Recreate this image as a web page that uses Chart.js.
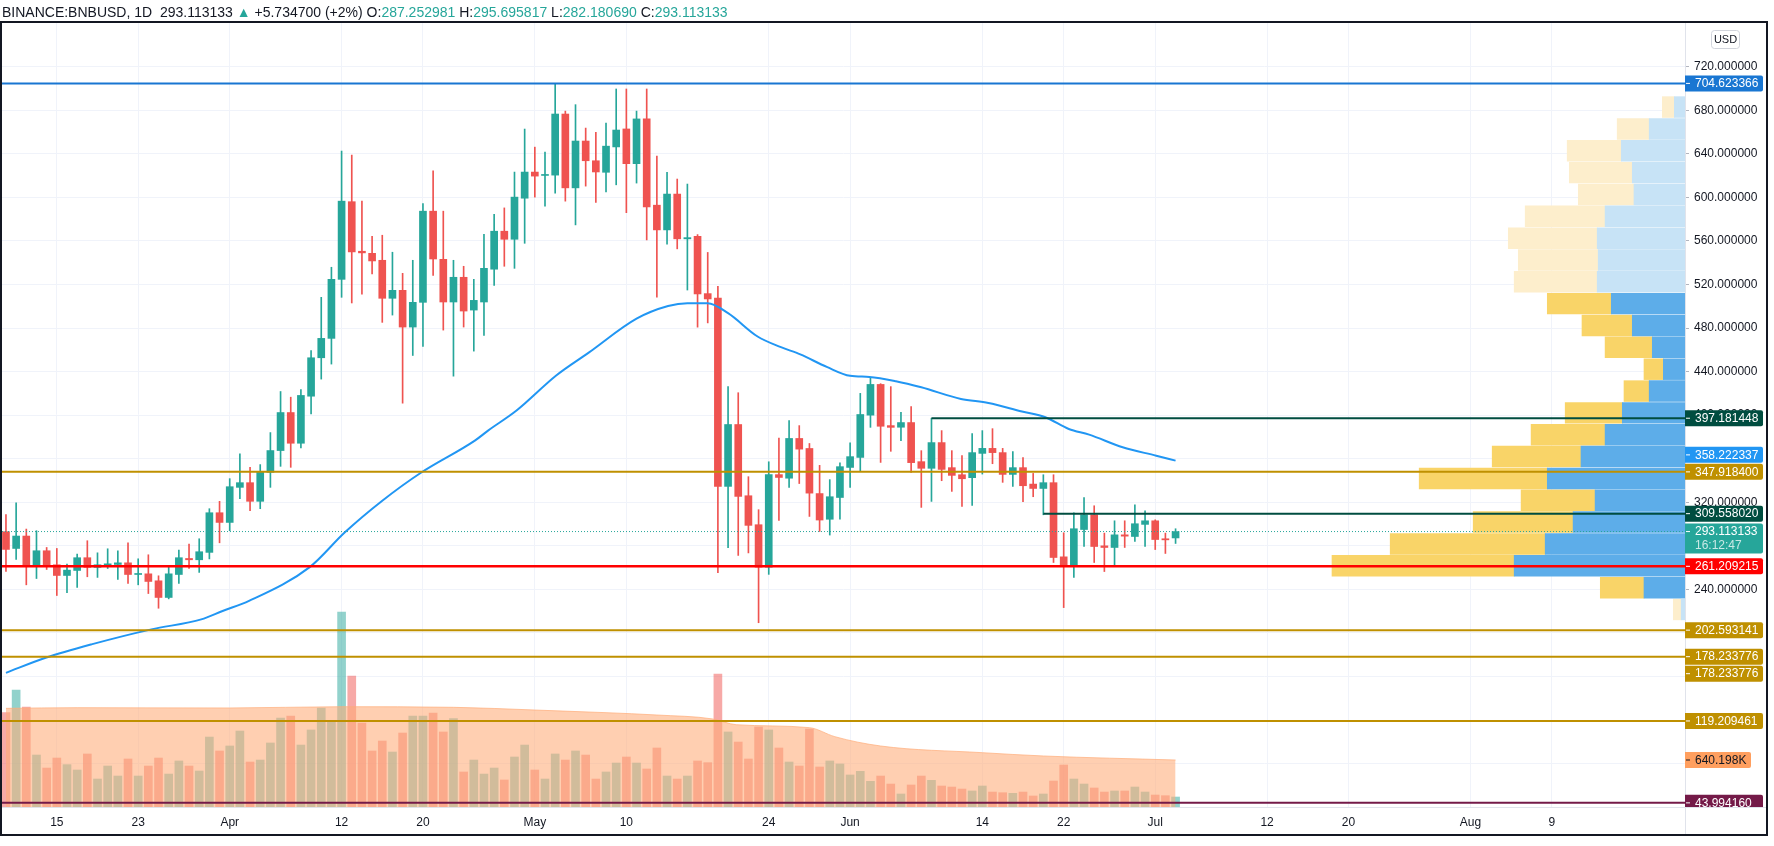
<!DOCTYPE html>
<html>
<head>
<meta charset="utf-8">
<script src="https://cdn.jsdelivr.net/npm/chart.js@4.4.1/dist/chart.umd.min.js"></script>
<style>
  html, body { margin: 0; padding: 0; background: #fff; }
  canvas { position: absolute; left: 0; top: 0; }
  #hdr { position: absolute; left: 2px; top: 4px; font: 14px "Liberation Sans", Arial, sans-serif; color: #131722; white-space: nowrap; }
  #hdr .g { color: #26a69a; }
</style>
</head>
<body>
<canvas id="c" width="1774" height="846"></canvas>
<div id="hdr">BINANCE:BNBUSD, 1D&nbsp; 293.113133 <span class="g">&#9650;</span> +5.734700 (+2%) O:<span class="g">287.252981</span> H:<span class="g">295.695817</span> L:<span class="g">282.180690</span> C:<span class="g">293.113133</span></div>
<script>
// daily candles from 2021-03-10 (index 0) to 2021-07-03 (index 115)
const opens = [
  293.0, 277.6, 289.0, 261.7, 275.5, 262.6, 252.8, 257.4, 269.1, 260.2, 261.7, 262.9, 264.4, 253.7, 254.3, 247.9, 232.6, 253.7, 268.4, 267.2, 274.0, 310.4,
  301.5, 333.7, 338.0, 320.9, 347.5, 367.5, 402.4, 374.2, 417.4, 452.7, 470.5, 524.7, 596.0, 550.5, 548.6, 542.2, 507.3, 514.6, 480.9, 503.6, 587.3, 543.1, 503.9, 526.6, 496.5, 503.9, 534.0, 568.9, 561.5, 599.2,
  623.2, 620.1, 620.4, 676.5, 608.7, 651.7, 633.6, 623.0, 646.3, 662.8, 630.9, 672.0, 592.8, 570.1, 603.0, 561.9, 564.2, 511.6, 507.4, 334.6, 391.4, 326.0, 299.4, 260.4, 345.4, 342.1, 378.6, 369.4, 328.0, 304.4, 324.4,
  352.0, 361.2, 400.0, 428.2, 390.4, 388.9, 393.2, 357.3, 351.2, 374.8, 351.8, 345.3, 342.6, 364.9, 369.5, 365.6, 345.6, 351.8, 336.7, 332.7, 338.0, 269.9, 261.0, 295.0, 308.5, 280.0, 278.5, 290.1, 288.6, 299.7,
  303.0, 286.5, 287.252981
];
const highs = [
  308.6, 319.6, 295.4, 293.9, 278.5, 277.6, 263.2, 272.4, 284.7, 273.6, 277.3, 275.5, 282.8, 268.1, 271.8, 252.5, 260.8, 276.1, 281.6, 286.5, 314.1, 320.9,
  341.7, 364.4, 352.1, 354.6, 384.0, 421.7, 416.5, 423.5, 459.4, 508.2, 535.8, 642.5, 638.8, 596.5, 564.3, 565.2, 549.6, 530.2, 542.2, 594.3, 624.4, 587.3, 542.2, 536.7, 524.7, 566.1, 584.5, 590.3, 623.2, 662.7,
  646.1, 641.5, 704.1, 679.2, 685.1, 663.6, 659.8, 668.3, 699.5, 699.5, 679.2, 699.5, 637.8, 623.0, 616.8, 612.2, 565.8, 549.4, 518.2, 426.2, 420.6, 343.5, 313.2, 357.2, 378.9, 395.0, 390.4, 374.0, 353.9, 340.8, 356.3,
  374.7, 420.0, 434.4, 428.9, 426.2, 402.6, 407.9, 367.4, 397.18, 385.8, 367.4, 362.8, 383.0, 385.8, 387.6, 369.5, 366.5, 361.0, 346.5, 345.3, 345.3, 292.0, 310.4, 324.2, 316.8, 291.7, 303.0, 303.0, 317.7, 312.2,
  303.9, 291.7, 295.695817
];
const lows = [
  256.5, 267.5, 244.2, 250.0, 258.3, 234.4, 236.9, 241.8, 251.6, 251.0, 259.2, 249.1, 245.4, 244.2, 236.2, 222.7, 231.3, 245.4, 259.2, 255.6, 268.0, 282.8,
  293.9, 323.3, 312.3, 314.1, 333.7, 353.0, 352.1, 370.0, 401.2, 433.1, 446.9, 508.2, 503.0, 511.2, 529.6, 485.2, 491.9, 411.0, 454.8, 463.1, 528.4, 478.1, 435.8, 480.9, 458.8, 473.2, 519.2, 536.7, 534.8, 557.8,
  600.2, 591.9, 603.8, 596.5, 574.7, 610.3, 595.4, 604.9, 611.5, 585.9, 613.1, 560.9, 508.4, 557.0, 552.7, 514.9, 480.8, 484.7, 255.4, 278.4, 271.2, 273.5, 209.4, 253.8, 303.4, 333.6, 337.2, 307.0, 293.2, 289.9, 304.4,
  333.6, 348.4, 388.8, 356.6, 366.8, 376.6, 347.5, 315.3, 320.8, 339.8, 330.0, 316.2, 317.1, 345.9, 355.4, 338.3, 334.6, 320.5, 325.1, 308.5, 264.7, 223.3, 250.9, 279.4, 264.7, 256.4, 261.0, 278.5, 284.0, 279.4,
  276.6, 273.0, 282.180690
];
const closes = [
  276.7, 289.0, 261.7, 275.5, 261.7, 252.8, 257.7, 269.1, 260.2, 262.6, 263.5, 264.4, 253.7, 254.0, 247.3, 232.6, 254.3, 269.1, 267.2, 274.6, 310.4, 301.5,
  334.3, 338.0, 320.9, 347.5, 367.5, 402.4, 374.2, 418.1, 452.7, 470.5, 524.7, 596.5, 549.9, 549.0, 541.6, 507.3, 514.6, 480.9, 503.6, 587.3, 543.4, 503.9, 526.6, 495.6, 505.4, 534.8, 568.9, 561.5, 600.2, 623.2,
  619.5, 621.0, 676.5, 608.7, 651.7, 633.6, 623.3, 647.0, 661.8, 630.9, 672.0, 591.2, 570.1, 603.0, 561.9, 563.0, 511.3, 506.7, 334.6, 391.4, 325.4, 298.8, 260.4, 345.4, 342.8, 378.6, 368.8, 328.4, 303.7, 325.1, 352.7,
  361.9, 400.6, 428.2, 389.8, 388.8, 393.2, 356.4, 351.2, 374.8, 350.2, 344.7, 341.6, 365.6, 369.5, 365.6, 345.6, 351.8, 335.2, 332.7, 338.0, 269.3, 261.0, 295.7, 308.5, 279.4, 278.5, 290.1, 288.9, 300.3, 303.0,
  285.8, 285.5, 293.113133
];
// volume in thousands
const volumes = [
  1285, 1594, 1362, 708, 531, 667, 577, 504, 722, 381, 558, 422, 654, 422, 558, 667, 449, 627, 558, 490, 953, 763,
  831, 1035, 613, 640, 872, 1212, 1239, 844, 1049, 1348, 1158, 2656, 1784, 1144, 763, 899, 749, 1008, 1239, 1239, 1280, 1022, 1203, 477, 640, 449, 531, 368, 681, 844,
  504, 381, 722, 640, 763, 708, 381, 477, 599, 681, 599, 518, 804, 422, 381, 422, 627, 604, 1811, 1022, 885, 654, 1090, 1049, 804, 613, 558, 1062, 545, 627, 586,
  436, 486, 350, 422, 313, 177, 300, 422, 363, 286, 272, 245, 218, 286, 204, 195, 186, 204, 150, 177, 354, 572, 381, 313, 259, 204, 218, 218, 272, 204,
  163, 154, 136
];
// volume moving average (thousands), read at these day indexes
const volMaDays   = [0, 7, 22, 33, 44, 52, 59, 64, 69.5, 71.8, 79, 81.5, 86, 96, 102, 115];
const volMaValues = [1344, 1353, 1349, 1366, 1358, 1321, 1285, 1253, 1199, 1121, 1081, 958, 831, 740, 695, 640.198];
// price moving average, read at these day indexes
const maDays   = [0, 3.9, 8.4, 14.3, 19.2, 21.3, 23.9, 29.9, 33.3, 37, 40.8, 46.1, 47.4, 50.2, 54.1, 57.3, 62, 65.1, 67, 69, 71, 73.9, 76.2, 78.1, 80.7, 83, 84.9, 87.5, 90, 93.9, 96.6, 99.9, 102.2, 104.5, 106.5, 109.8, 113.1, 115];
const maValues = [163.4, 177.2, 189.5, 203.3, 212.5, 220.2, 229.4, 260.7, 292.2, 321.4, 347.1, 376.6, 385.8, 404.2, 436.4, 457.4, 488.6, 500.2, 502.8, 502.8, 493.6, 472.2, 462.4, 455.8, 444.3, 436.1, 435.1, 431.2, 425.6, 414.9, 411.2, 403.3, 398.1, 387.3, 382.1, 370.5, 362.8, 358.222337];
// horizontal levels
const levelValues = [704.623366, 397.181448, 347.9184, 309.55802, 261.209215, 202.593141, 178.233776, 119.209461, 43.99416];
const levelStartDays = [null, 91, null, 102, null, null, null, null, null];
// volume profile (price bin centres, up / down volume)
const profilePrices = [682.9, 662.8, 642.8, 622.7, 602.7, 582.6, 562.5, 542.5, 522.4, 502.4, 482.3, 462.3, 442.2, 422.1, 402.1, 382.0, 362.0, 341.9, 321.8, 301.8, 281.7, 261.7, 241.6, 221.6];
const profileUp   = [1.07, 3.58, 6.37, 5.27, 5.10, 7.99, 8.78, 8.68, 8.78, 7.37, 5.27, 3.27, 2.17, 3.58, 6.27, 7.99, 10.40, 13.77, 8.99, 11.19, 13.98, 17.08, 4.10, 0.38];
const profileDown = [1.20, 3.20, 5.41, 6.30, 5.57, 7.99, 8.89, 7.99, 8.30, 6.40, 5.03, 4.72, 1.93, 2.52, 5.71, 7.40, 8.88, 12.81, 7.40, 9.99, 15.50, 18.22, 4.37, 0.79];
const valueAreaLow = 231.5, valueAreaHigh = 512.4;
// time axis
const tickDays   = [5, 13, 22, 33, 41, 52, 61, 75, 83, 96, 104, 113, 124, 132, 144, 152];
const tickLabels = ['15', '23', 'Apr', '12', '20', 'May', '10', '24', 'Jun', '14', '22', 'Jul', '12', '20', 'Aug', '9'];
const priceTicks = [80, 120, 160, 200, 240, 280, 320, 360, 400, 440, 480, 520, 560, 600, 640, 680, 720];

const X_MIN = -0.39, X_MAX = 165.09, Y_MIN = 40.2, Y_MAX = 761.0, VOL_MAX = 10693, PROFILE_MAX = 168.3;
const UP = '#26a69a', DOWN = '#ef5350';
const levelColors = ['#1976d2', '#004d40', '#bf9000', '#004d40', '#ff0000', '#bf9000', '#bf9000', '#bf9000', '#741a48'];

const candleColors = closes.map((c, i) => c >= opens[i] ? UP : DOWN);
const volColors = closes.map((c, i) => c >= opens[i] ? 'rgba(38,166,154,0.5)' : 'rgba(239,83,80,0.5)');
const inVA = profilePrices.map(p => p > valueAreaLow && p < valueAreaHigh);

Chart.defaults.font.family = '"Liberation Sans", Arial, sans-serif';

const datasets = [];
levelValues.forEach((v, i) => {
  datasets.push({
    type: 'line', order: 0, xAxisID: 'x', yAxisID: 'y',
    data: [{ x: levelStartDays[i] ?? X_MIN, y: v }, { x: X_MAX, y: v }],
    borderColor: levelColors[i], borderWidth: i === 4 ? 2.5 : 2, pointRadius: 0
  });
});
datasets.push({
  type: 'line', order: 1, xAxisID: 'x', yAxisID: 'y',
  data: [{ x: X_MIN, y: closes[closes.length - 1] }, { x: X_MAX, y: closes[closes.length - 1] }],
  borderColor: UP, borderWidth: 1, borderDash: [1, 2], pointRadius: 0
});
datasets.push({
  type: 'line', order: 2, xAxisID: 'x', yAxisID: 'y',
  data: maDays.map((d, i) => ({ x: d, y: maValues[i] })),
  borderColor: '#2196f3', borderWidth: 2, pointRadius: 0, cubicInterpolationMode: 'monotone'
});
datasets.push({
  type: 'bar', order: 3, xAxisID: 'x', yAxisID: 'y', grouped: false,
  data: opens.map((o, i) => ({ x: i, y: [o, closes[i]] })),
  backgroundColor: candleColors, barThickness: 7, minBarLength: 1
});
datasets.push({
  type: 'bar', order: 4, xAxisID: 'x', yAxisID: 'y', grouped: false,
  data: lows.map((l, i) => ({ x: i, y: [l, highs[i]] })),
  backgroundColor: candleColors, barThickness: 1
});
datasets.push({
  type: 'bar', order: 5, indexAxis: 'y', xAxisID: 'xp', yAxisID: 'y', grouped: false,
  data: profilePrices.map((p, i) => ({ y: p, x: [0, profileUp[i]] })),
  backgroundColor: inVA.map(f => f ? '#5dade9' : '#c7e3f6'), barThickness: 20.8
});
datasets.push({
  type: 'bar', order: 5, indexAxis: 'y', xAxisID: 'xp', yAxisID: 'y', grouped: false,
  data: profilePrices.map((p, i) => ({ y: p, x: [profileUp[i], profileUp[i] + profileDown[i]] })),
  backgroundColor: inVA.map(f => f ? '#f9d468' : '#fdeecc'), barThickness: 20.8
});
datasets.push({
  type: 'line', order: 6, xAxisID: 'x', yAxisID: 'yv',
  data: volMaDays.map((d, i) => ({ x: d, y: volMaValues[i] })),
  borderColor: 'rgba(255,172,121,0.7)', borderWidth: 1, backgroundColor: 'rgba(255,172,121,0.58)',
  fill: 'origin', pointRadius: 0, cubicInterpolationMode: 'monotone'
});
datasets.push({
  type: 'bar', order: 7, xAxisID: 'x', yAxisID: 'yv', grouped: false,
  data: volumes.map((v, i) => ({ x: i, y: v })),
  backgroundColor: volColors, barThickness: 8
});

function labelBox(ctx, left, yc, w, h, bg, fg, lines) {
  const top = yc - 8;
  ctx.fillStyle = bg;
  ctx.beginPath();
  ctx.roundRect(left, top, w, h, [0, 2, 2, 0]);
  ctx.fill();
  ctx.fillStyle = fg;
  ctx.fillRect(left + 1, yc - 0.5, 4, 1);
  ctx.textBaseline = 'middle';
  ctx.textAlign = 'left';
  lines.forEach((t, k) => {
    ctx.globalAlpha = k === 0 ? 1 : 0.75;
    ctx.fillText(t, left + 10, yc + 0.5 + k * 14);
  });
  ctx.globalAlpha = 1;
}

const overlay = {
  id: 'overlay',
  afterDraw(chart) {
    const { ctx, chartArea: a, scales: { y, yv } } = chart;
    const left = a.right;
    ctx.save();
    // axis separators
    ctx.strokeStyle = '#e0e3eb';
    ctx.lineWidth = 1;
    ctx.beginPath();
    ctx.moveTo(left, a.bottom + 0.5); ctx.lineTo(1767, a.bottom + 0.5);
    ctx.moveTo(left + 0.5, a.bottom); ctx.lineTo(left + 0.5, 835);
    ctx.stroke();

    ctx.save();
    ctx.beginPath();
    ctx.rect(left, a.top, 90, a.bottom - a.top);
    ctx.clip();
    ctx.font = '12px "Liberation Sans", Arial, sans-serif';
    const W = 78, H = 16;
    levelValues.forEach((v, i) => {
      labelBox(ctx, left, y.getPixelForValue(v), W, H, levelColors[i], '#ffffff', [v.toFixed(6)]);
    });
    // duplicated level label
    labelBox(ctx, left, y.getPixelForValue(levelValues[6]) + 17, W, H, levelColors[6], '#ffffff', [levelValues[6].toFixed(6)]);
    // moving average label, pushed up to avoid the level label below it
    const maLast = maValues[maValues.length - 1];
    const yMa = Math.min(y.getPixelForValue(maLast), y.getPixelForValue(levelValues[2]) - 17);
    labelBox(ctx, left, yMa, W, H, '#2196f3', '#ffffff', [maLast.toFixed(6)]);
    // last price with countdown
    const last = closes[closes.length - 1];
    labelBox(ctx, left, y.getPixelForValue(last), W, 30, UP, '#ffffff', [last.toFixed(6), '16:12:47']);
    // volume MA label
    const vLast = volMaValues[volMaValues.length - 1];
    labelBox(ctx, left, yv.getPixelForValue(vLast), 66, H, '#ff9f5f', '#131722', [vLast.toFixed(3) + 'K']);
    ctx.restore();

    // currency badge
    ctx.strokeStyle = '#d1d4dc';
    ctx.lineWidth = 1;
    ctx.beginPath();
    ctx.roundRect(1711.5, 30.5, 28, 18, 3);
    ctx.stroke();
    ctx.fillStyle = '#131722';
    ctx.font = '11px "Liberation Sans", Arial, sans-serif';
    ctx.textAlign = 'center';
    ctx.textBaseline = 'middle';
    ctx.fillText('USD', 1725.5, 40);

    // outer frame
    ctx.strokeStyle = '#131722';
    ctx.lineWidth = 2;
    ctx.strokeRect(1, 22, 1766, 813);
    ctx.restore();
  }
};

new Chart(document.getElementById('c'), {
  type: 'bar',
  data: { datasets },
  plugins: [overlay],
  options: {
    responsive: false,
    animation: false,
    devicePixelRatio: 1,
    layout: { padding: { left: 2, top: 22, right: 7, bottom: 11 } },
    plugins: { legend: { display: false }, tooltip: { enabled: false } },
    scales: {
      x: {
        type: 'linear', axis: 'x', position: 'bottom', min: X_MIN, max: X_MAX, offset: false,
        afterBuildTicks: s => { s.ticks = tickDays.map(v => ({ value: v })); },
        afterFit: s => { s.height = 28; },
        ticks: {
          autoSkip: false, maxRotation: 0, padding: 8, color: '#131722', font: { size: 12 },
          callback: v => { const k = tickDays.indexOf(v); return k >= 0 ? tickLabels[k] : ''; }
        },
        grid: { color: '#f0f3fa', drawTicks: false, offset: false },
        border: { color: '#e0e3eb' }
      },
      y: {
        type: 'linear', axis: 'y', position: 'right', min: Y_MIN, max: Y_MAX, beginAtZero: false, offset: false,
        afterBuildTicks: s => { s.ticks = priceTicks.map(v => ({ value: v })); },
        afterFit: s => { s.width = 82; },
        ticks: {
          autoSkip: false, padding: 5, color: '#131722', font: { size: 12 },
          callback: v => v >= 240 ? v.toFixed(6) : ''
        },
        grid: { color: '#f0f3fa', tickLength: 4, tickColor: '#b2b5be', offset: false },
        border: { color: '#e0e3eb' }
      },
      yv: { type: 'linear', axis: 'y', display: false, min: 0, max: VOL_MAX, offset: false },
      xp: { type: 'linear', axis: 'x', display: false, reverse: true, min: 0, max: PROFILE_MAX, offset: false }
    }
  }
});
</script>
</body>
</html>
